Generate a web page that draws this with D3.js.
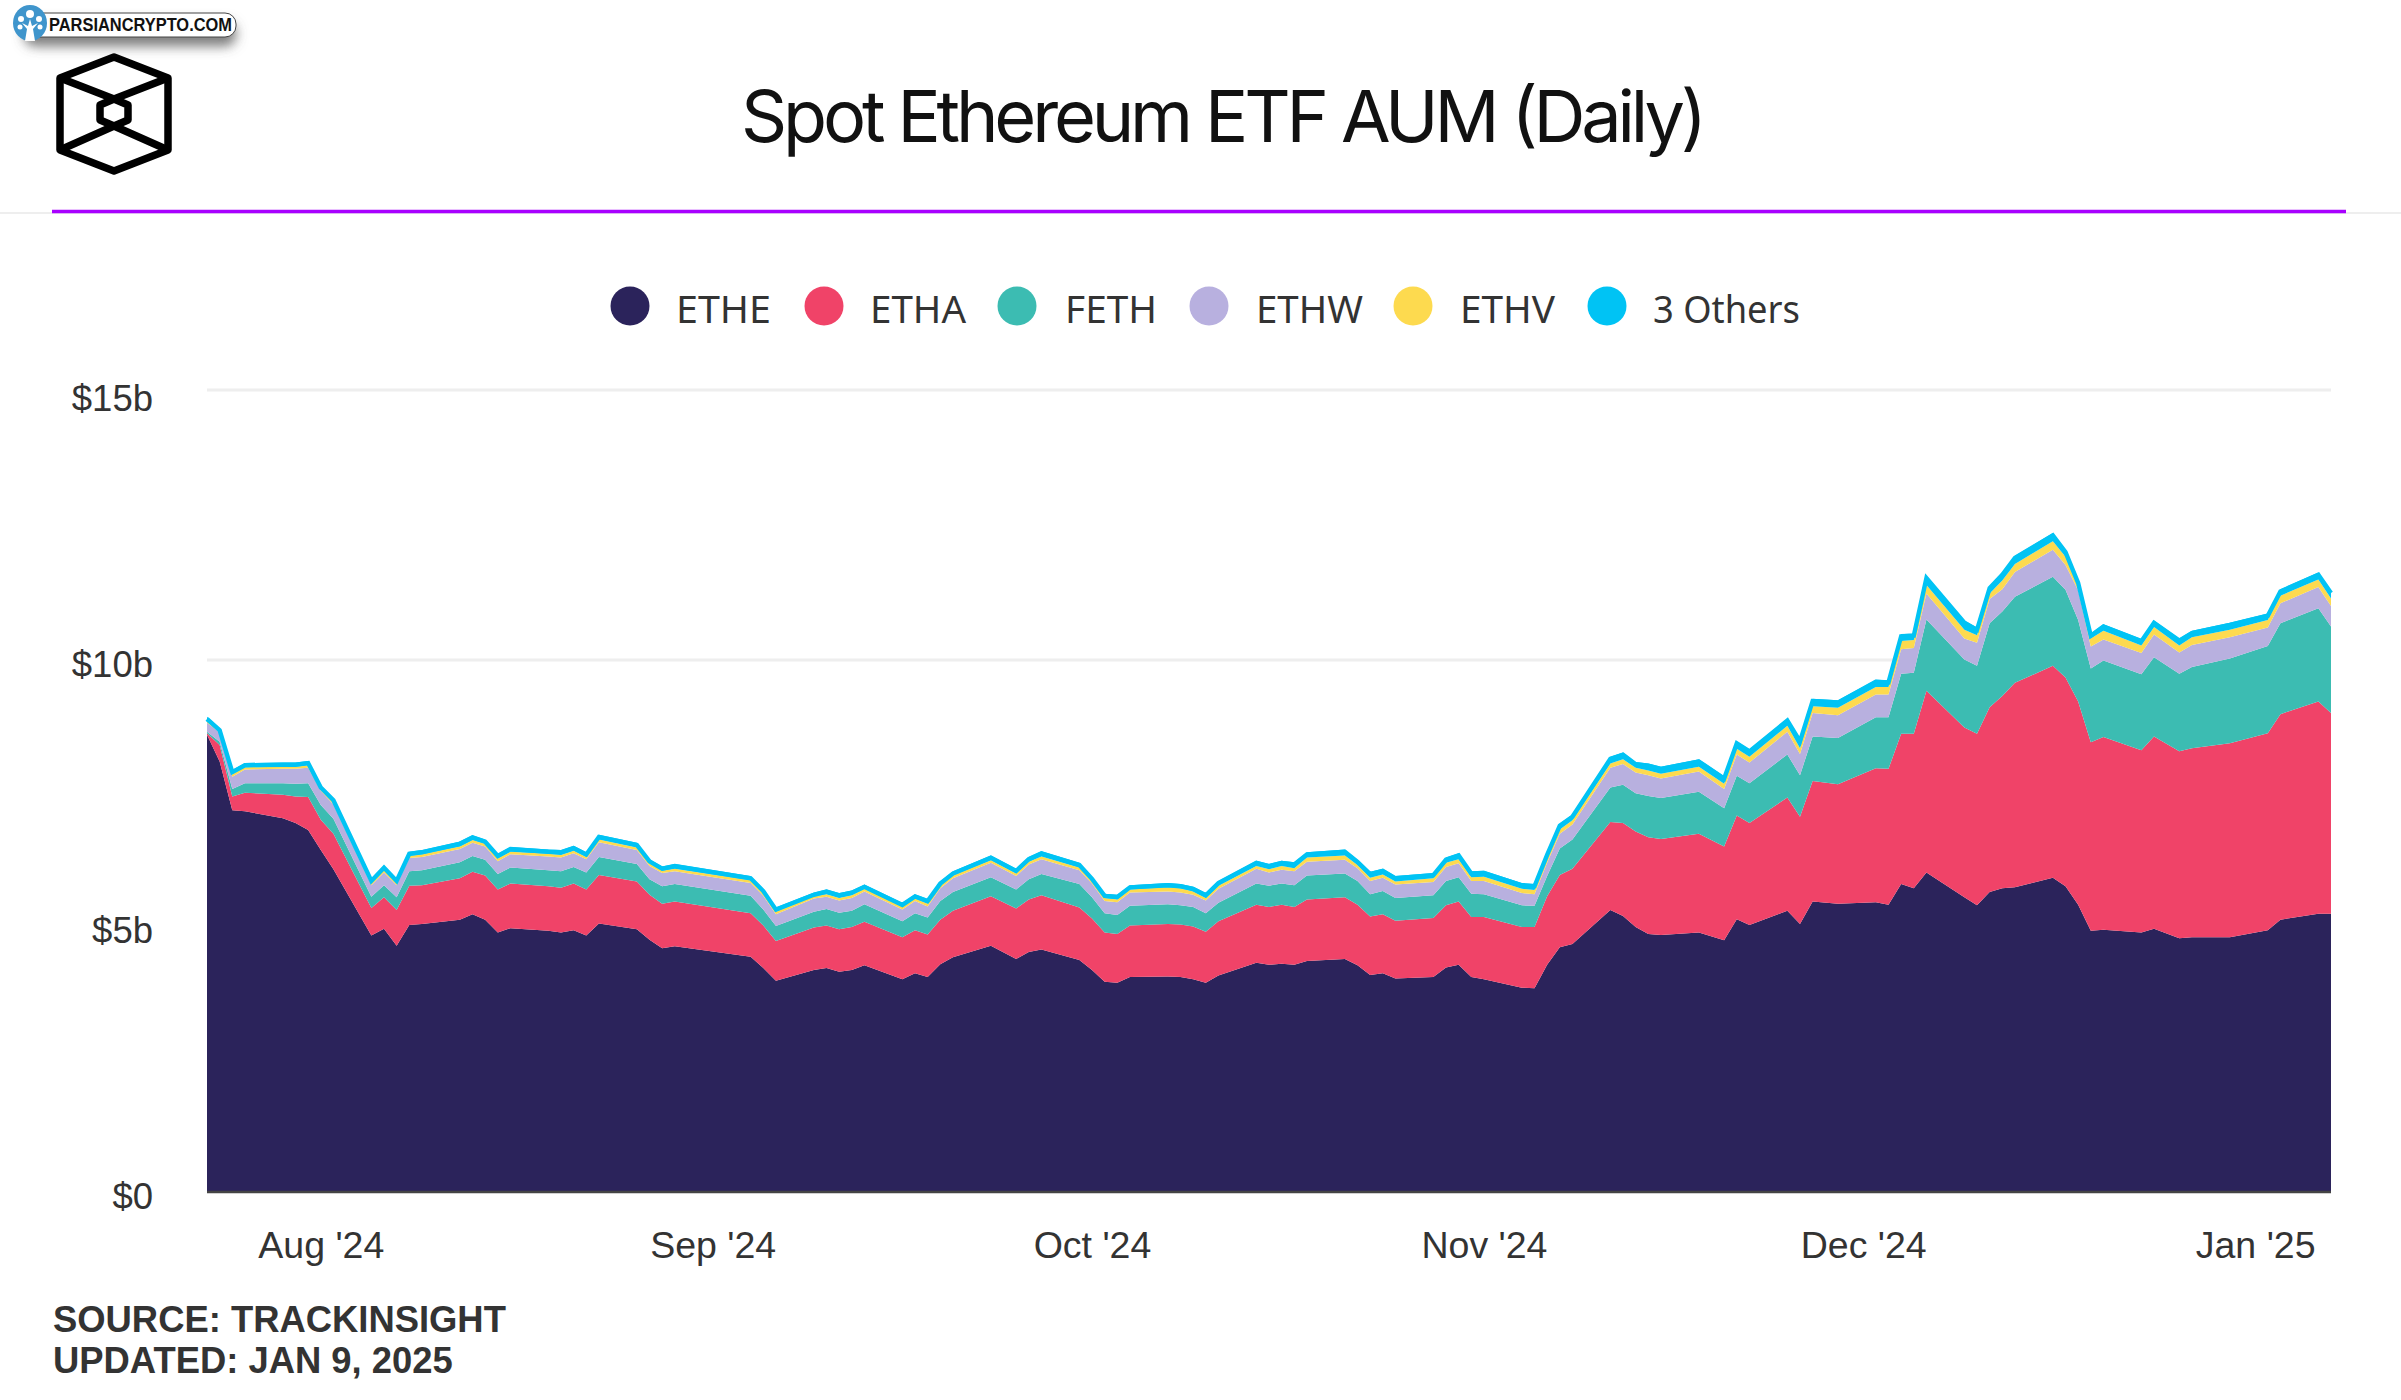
<!DOCTYPE html>
<html>
<head>
<meta charset="utf-8">
<title>Spot Ethereum ETF AUM (Daily)</title>
<script src="https://cdn.jsdelivr.net/npm/d3@7"></script>
<style>
  html, body { margin: 0; background: #fff; }
  svg { display: block; }
</style>
</head>
<body>
<div id="chart"></div>
<script>
// data, $ billions, only the days where the lines bend
const dates = [
  '2024-07-23','2024-07-24','2024-07-25','2024-07-26','2024-07-29','2024-07-30','2024-07-31','2024-08-01','2024-08-02','2024-08-05','2024-08-06','2024-08-07','2024-08-08','2024-08-09','2024-08-12','2024-08-13','2024-08-14','2024-08-15','2024-08-16','2024-08-19','2024-08-20','2024-08-21','2024-08-22','2024-08-23',
  '2024-08-26','2024-08-27','2024-08-28','2024-08-29','2024-09-04','2024-09-05','2024-09-06','2024-09-09','2024-09-10','2024-09-11','2024-09-12','2024-09-13','2024-09-16','2024-09-17','2024-09-18','2024-09-19','2024-09-20','2024-09-23','2024-09-25','2024-09-26','2024-09-27',
  '2024-09-30','2024-10-01','2024-10-02','2024-10-03','2024-10-04','2024-10-07','2024-10-08','2024-10-09','2024-10-10','2024-10-11','2024-10-14','2024-10-15','2024-10-16','2024-10-17','2024-10-18','2024-10-21','2024-10-22','2024-10-23','2024-10-24','2024-10-25','2024-10-28','2024-10-29','2024-10-30','2024-10-31','2024-11-01','2024-11-04','2024-11-05',
  '2024-11-06','2024-11-07','2024-11-08','2024-11-11','2024-11-12','2024-11-13','2024-11-14','2024-11-15','2024-11-18','2024-11-20','2024-11-21','2024-11-22','2024-11-25','2024-11-26','2024-11-27','2024-11-29','2024-12-02','2024-12-03','2024-12-04','2024-12-05','2024-12-06','2024-12-09','2024-12-10','2024-12-11','2024-12-12','2024-12-13','2024-12-16','2024-12-17','2024-12-18','2024-12-19','2024-12-20','2024-12-23','2024-12-24','2024-12-26','2024-12-27','2024-12-30','2025-01-02','2025-01-03','2025-01-06','2025-01-07'
];
const ethe = [
  8.59,8.09,7.17,7.15,7.02,6.93,6.80,6.42,6.06,4.81,4.94,4.62,5.01,5.03,5.11,5.21,5.11,4.87,4.95,4.90,4.87,4.91,4.81,5.04,
  4.93,4.73,4.57,4.61,4.41,4.20,3.96,4.16,4.20,4.13,4.16,4.25,3.99,4.10,4.03,4.27,4.40,4.62,4.37,4.50,4.55,
  4.35,4.16,3.94,3.92,4.03,4.04,4.03,3.99,3.92,4.06,4.30,4.26,4.28,4.26,4.33,4.37,4.25,4.07,4.10,4.00,4.03,4.21,4.26,4.03,3.99,3.83,3.82,
  4.26,4.59,4.65,5.29,5.18,4.97,4.84,4.82,4.87,4.72,5.12,5.01,5.28,5.03,5.45,5.41,5.44,5.39,5.78,5.70,6.00,5.53,5.38,5.63,5.70,5.72,5.90,5.74,5.39,4.90,4.92,4.87,4.94,4.76,4.78,4.78,4.91,5.11,5.22,5.22
];
const etha = [
  .03,.31,.26,.35,.44,.50,.62,.57,.67,.52,.59,.67,.74,.73,.78,.80,.83,.81,.84,.84,.84,.88,.87,.91,
  .90,.85,.84,.84,.82,.80,.75,.80,.80,.80,.81,.82,.79,.81,.80,.84,.88,.93,.95,.99,1.02,
  .99,.97,.93,.92,.97,.99,.99,.99,.96,1.02,1.09,1.09,1.11,1.09,1.16,1.16,1.14,1.10,1.11,1.09,1.11,1.17,1.19,1.13,1.17,1.14,1.15,
  1.29,1.36,1.42,1.66,1.75,1.80,1.82,1.81,1.86,1.77,1.95,1.92,2.13,2.02,2.27,2.25,2.52,2.56,2.83,2.91,3.42,3.20,3.23,3.48,3.62,3.85,3.99,3.93,3.83,3.55,3.63,3.43,3.62,3.52,3.56,3.65,3.71,3.87,4.00,3.78
];
const feth = [
  .03,.06,.14,.18,.22,.24,.26,.28,.28,.21,.23,.24,.27,.28,.30,.30,.30,.29,.30,.30,.31,.31,.32,.34,
  .33,.29,.33,.33,.33,.30,.28,.30,.31,.31,.31,.33,.30,.32,.32,.35,.35,.36,.36,.38,.40,
  .44,.40,.36,.36,.37,.37,.36,.37,.35,.35,.40,.40,.40,.41,.45,.45,.45,.42,.44,.43,.43,.46,.46,.44,.43,.41,.40,
  .38,.50,.55,.65,.72,.72,.78,.77,.79,.72,.75,.75,.81,.78,.84,.87,.96,.97,1.13,1.15,1.33,1.28,1.28,1.57,1.58,1.60,1.65,1.63,1.52,1.39,1.44,1.43,1.49,1.46,1.53,1.60,1.64,1.70,1.74,1.62
];
const ethw = [
  .17,.18,.23,.26,.27,.28,.29,.27,.27,.22,.24,.23,.25,.25,.25,.25,.25,.24,.25,.26,.26,.26,.25,.28,
  .26,.25,.25,.24,.24,.26,.22,.25,.23,.23,.24,.24,.22,.23,.21,.24,.26,.27,.25,.28,.28,
  .26,.26,.23,.24,.25,.24,.24,.23,.24,.26,.28,.25,.26,.26,.26,.26,.24,.25,.25,.25,.25,.26,.26,.24,.25,.23,.22,
  .25,.28,.28,.37,.39,.39,.39,.37,.38,.36,.40,.39,.43,.40,.44,.43,.43,.43,.46,.46,.48,.39,.43,.45,.41,.46,.50,.46,.55,.41,.39,.40,.42,.40,.41,.39,.34,.37,.39,.38
];
const ethv = [
  .05,.04,.05,.04,.04,.04,.05,.04,.04,.04,.04,.04,.04,.05,.05,.05,.05,.05,.05,.05,.05,.05,.04,.05,
  .05,.05,.04,.05,.05,.05,.05,.04,.05,.05,.05,.05,.05,.05,.05,.05,.05,.05,.05,.05,.05,
  .05,.04,.06,.05,.06,.08,.08,.06,.05,.06,.05,.06,.07,.06,.08,.08,.06,.06,.06,.06,.07,.08,.08,.07,.08,.08,.08,
  .08,.08,.08,.08,.09,.09,.09,.09,.09,.10,.11,.11,.11,.11,.13,.14,.14,.14,.15,.15,.16,.16,.14,.10,.16,.15,.16,.15,.08,.15,.16,.14,.14,.13,.14,.14,.14,.14,.14,.14
];
const others = [
  .06,.04,.08,.08,.08,.08,.08,.06,.08,.08,.09,.08,.08,.08,.09,.09,.08,.09,.09,.08,.09,.09,.09,.09,
  .09,.08,.08,.09,.08,.08,.08,.07,.09,.09,.09,.08,.08,.08,.09,.08,.08,.09,.09,.09,.10,
  .09,.09,.08,.09,.08,.08,.08,.09,.09,.09,.10,.10,.10,.11,.10,.11,.10,.11,.11,.10,.10,.10,.11,.11,.11,.11,.11,
  .11,.11,.11,.13,.13,.11,.13,.13,.14,.14,.14,.14,.14,.17,.14,.14,.14,.13,.13,.12,.17,.17,.14,.14,.15,.15,.15,.13,.10,.09,.12,.12,.12,.13,.12,.13,.12,.12,.13,.14
];

const seriesNames = ['ETHE', 'ETHA', 'FETH', 'ETHW', 'ETHV', '3 Others'];
const seriesValues = [ethe, etha, feth, ethw, ethv, others];
const seriesColors = ['#2b235b', '#f04368', '#3cbcb2', '#b8b0df', '#fdda4f', '#00c3f4'];
const gridValues = [0, 5, 10, 15];
const monthTicks = ['2024-08-01', '2024-09-01', '2024-10-01', '2024-11-01', '2024-12-01', '2025-01-01'];

const width = 2401;
const height = 1400;
const parseDate = d3.timeParse('%Y-%m-%d');

const svg = d3.select('#chart').append('svg')
  .attr('width', width)
  .attr('height', height)
  .attr('font-family', '"Liberation Sans", sans-serif');

// scales
const x = d3.scaleTime()
  .domain([parseDate(dates[0]), parseDate(dates[dates.length - 1])])
  .range([207, 2331]);

// the top gridline sits a few px above an even spacing in the picture
const y = d3.scaleLinear().domain([0, 10, 15]).range([1191, 660, 390]);
const yLabels = d3.scaleLinear().domain([0, 15]).range([1196.5, 398.5]);

// gridlines
svg.append('g')
  .selectAll('line')
  .data(gridValues)
  .join('line')
  .attr('x1', x.range()[0])
  .attr('x2', x.range()[1])
  .attr('y1', d => y(d))
  .attr('y2', d => y(d))
  .attr('stroke', '#eeeeee')
  .attr('stroke-width', 3);

// stacked areas
const rows = dates.map((d, i) => {
  const row = { date: parseDate(d) };
  seriesNames.forEach((name, j) => { row[name] = seriesValues[j][i]; });
  return row;
});

const stacked = d3.stack().keys(seriesNames)(rows);

const area = d3.area()
  .x(d => x(d.data.date))
  .y0(d => y(d[0]))
  .y1(d => y(d[1]));

svg.append('g')
  .selectAll('path')
  .data(stacked)
  .join('path')
  .attr('fill', (d, i) => seriesColors[i])
  .attr('d', area);

// the top series keeps its thickness on steep parts, so it also gets a line
svg.append('path')
  .datum(stacked[stacked.length - 1])
  .attr('transform', 'translate(0,2.2)')
  .attr('fill', 'none')
  .attr('stroke', seriesColors[seriesColors.length - 1])
  .attr('stroke-width', 4.4)
  .attr('d', d3.line().x(d => x(d.data.date)).y(d => y(d[1])));

// baseline
svg.append('line')
  .attr('x1', x.range()[0])
  .attr('x2', x.range()[1])
  .attr('y1', y(0) + 1)
  .attr('y2', y(0) + 1)
  .attr('stroke', '#444444')
  .attr('stroke-width', 2.5);

// axes
const yAxis = svg.append('g')
  .attr('transform', 'translate(153,0)')
  .call(d3.axisLeft(yLabels)
    .tickValues(gridValues)
    .tickSize(0)
    .tickPadding(0)
    .tickFormat(d => d === 0 ? '$0' : `$${d}b`));

const xAxis = svg.append('g')
  .attr('transform', 'translate(0,1231)')
  .call(d3.axisBottom(x)
    .tickValues(monthTicks.map(parseDate))
    .tickSize(0)
    .tickPadding(0)
    .tickFormat(d3.timeFormat("%b '%y")));

[yAxis, xAxis].forEach(axis => {
  axis.select('.domain').remove();
  axis.selectAll('text')
    .attr('font-family', '"Liberation Sans", sans-serif')
    .attr('font-size', axis === yAxis ? 36.5 : 37.5)
    .attr('fill', '#333333');
});

// legend
const legendDotX = [630, 824, 1017, 1209, 1413, 1607];
const legendTextX = [676, 870, 1065, 1256, 1460, 1653];
const legendTextW = [95, 96, 92, 107, 95, 147];
const legend = svg.append('g')
  .selectAll('g')
  .data(seriesNames)
  .join('g');

legend.append('circle')
  .attr('cx', (d, i) => legendDotX[i])
  .attr('cy', 306)
  .attr('r', 19.5)
  .attr('fill', (d, i) => seriesColors[i]);

legend.append('text')
  .attr('x', (d, i) => legendTextX[i])
  .attr('y', 323)
  .attr('font-family', '"Noto Sans", sans-serif')
  .attr('font-size', 38)
  .attr('fill', '#333333')
  .attr('textLength', (d, i) => legendTextW[i])
  .attr('lengthAdjust', 'spacingAndGlyphs')
  .text(d => d);

// header
svg.append('text')
  .attr('x', 1224)
  .attr('y', 142)
  .attr('text-anchor', 'middle')
  .attr('font-family', 'Inter, sans-serif')
  .attr('font-size', 72)
  .attr('fill', '#111111')
  .attr('textLength', 966)
  .attr('lengthAdjust', 'spacing')
  .text('Spot Ethereum ETF AUM (Daily)');

svg.append('line')
  .attr('x1', 0).attr('x2', width)
  .attr('y1', 213).attr('y2', 213)
  .attr('stroke', '#e8e8e8')
  .attr('stroke-width', 1.5);

svg.append('line')
  .attr('x1', 52).attr('x2', 2346)
  .attr('y1', 211.5).attr('y2', 211.5)
  .attr('stroke', '#a800ff')
  .attr('stroke-width', 3.5);

// cube logo
const logo = svg.append('g')
  .attr('fill', 'none')
  .attr('stroke', '#000000')
  .attr('stroke-width', 7.5)
  .attr('stroke-linejoin', 'round');
logo.append('path').attr('d', 'M114,57 L168,78 L168,150 L114,171 L60,150 L60,78 Z');
logo.append('path').attr('d', 'M60,78 L114,99 L168,78 M60,150 L114,126 L168,150');
logo.append('path').attr('d', 'M114,99 L128,105 L128,120 L114,126 L100,120 L100,105 Z');

// source note
const note = svg.append('g')
  .attr('font-size', 36.4)
  .attr('font-weight', 700)
  .attr('fill', '#333333');
note.append('text').attr('x', 53).attr('y', 1332).text('SOURCE: TRACKINSIGHT');
note.append('text').attr('x', 53).attr('y', 1373).text('UPDATED: JAN 9, 2025');

// watermark badge
const defs = svg.append('defs');
const shadow = defs.append('filter').attr('id', 'badge-shadow')
  .attr('x', '-10%').attr('y', '-30%').attr('width', '120%').attr('height', '260%');
shadow.append('feDropShadow')
  .attr('dx', 0).attr('dy', 9).attr('stdDeviation', 6)
  .attr('flood-color', '#555555').attr('flood-opacity', 0.75);

const badge = svg.append('g');
badge.append('rect')
  .attr('x', 24).attr('y', 13).attr('width', 212).attr('height', 24).attr('rx', 11)
  .attr('fill', '#ffffff').attr('stroke', '#444444').attr('stroke-width', 1)
  .attr('filter', 'url(#badge-shadow)');
badge.append('ellipse')
  .attr('cx', 30).attr('cy', 23).attr('rx', 17).attr('ry', 18).attr('fill', '#3f95cc');
badge.append('path')
  .attr('d', 'M25,41 L27,29 L22,23 L28,26 L30,19 L32,26 L38,23 L33,29 L35,41 Z')
  .attr('fill', '#ffffff');
badge.selectAll('circle')
  .data([[30, 14, 4], [21, 19, 3], [39, 19, 3], [20, 27, 2.5], [40, 27, 2.5]])
  .join('circle')
  .attr('cx', d => d[0]).attr('cy', d => d[1]).attr('r', d => d[2])
  .attr('fill', '#ffffff');
badge.append('text')
  .attr('x', 49).attr('y', 31)
  .attr('font-size', 18)
  .attr('font-weight', 700)
  .attr('fill', '#111111')
  .attr('textLength', 183)
  .attr('lengthAdjust', 'spacingAndGlyphs')
  .text('PARSIANCRYPTO.COM');
</script>
</body>
</html>
